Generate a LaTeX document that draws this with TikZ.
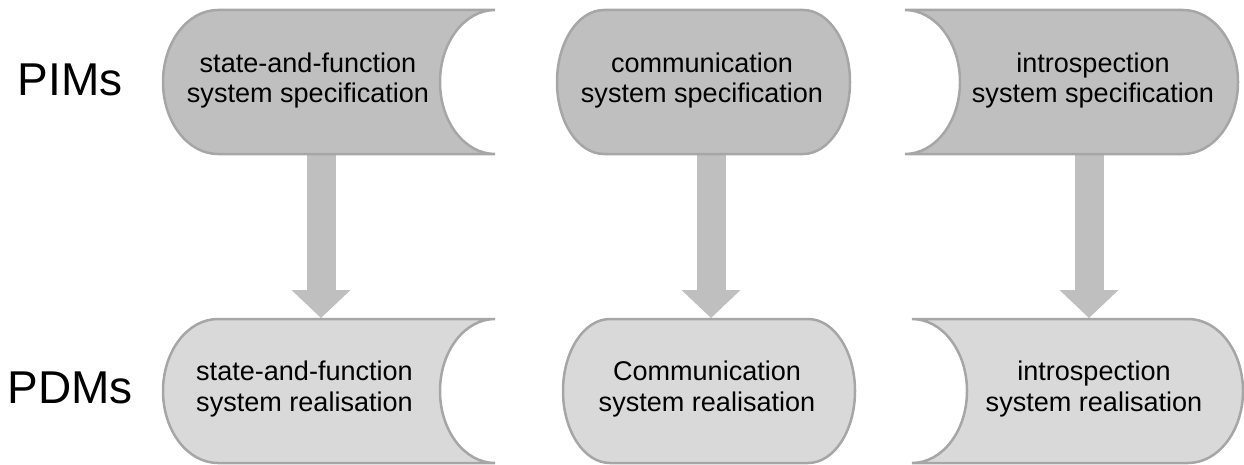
\documentclass[tikz,border=0pt]{standalone}
\usepackage{fontspec}
\setmainfont{Liberation Sans}
\usepackage{tikz}
\usetikzlibrary{arrows.meta}
\usepackage{xcolor}
\definecolor{PimGray}{HTML}{BFBFBF}
\definecolor{PdmGray}{HTML}{D9D9D9}
\definecolor{EdgeGray}{HTML}{A6A6A6}

\tikzset{
  pimbox/.style={fill=PimGray, draw=EdgeGray, line width=0.05cm},
  pdmbox/.style={fill=PdmGray, draw=EdgeGray, line width=0.05cm},
  boxtext/.style={align=center, inner sep=0pt, font=\fontsize{15.4}{17.6}\selectfont},
  modeltext/.style={anchor=base, inner sep=0pt, font=\fontsize{26.2}{30}\selectfont},
  bigarrow/.style={draw=PimGray, line width=0.58cm, -{Triangle[width=1.18cm,length=0.56cm,line width=0pt]}}
}

\begin{document}
\begin{tikzpicture}[x=0.02cm,y=0.02cm]
\useasboundingbox (0,0) rectangle (1244,464);
% arrows from PIMs down to PDMs
\coordinate (sfout) at (321,312);
\coordinate (sfin) at (321,146);
\coordinate (comout) at (711,312);
\coordinate (comin) at (711,146);
\coordinate (intout) at (1089,312);
\coordinate (intin) at (1089,146);
\draw[bigarrow] (sfout) -- (sfin);
\draw[bigarrow] (comout) -- (comin);
\draw[bigarrow] (intout) -- (intin);
% PIMs row
\draw[pimbox] (495,454) -- (218,454) arc[start angle=90,end angle=270,x radius=55,y radius=72] -- (495,310) arc[start angle=-90,end angle=-270,x radius=55,y radius=72] -- cycle;
\draw[pimbox] (604,454) -- (803,454) arc[start angle=90,end angle=-90,x radius=47,y radius=72] -- (604,310) arc[start angle=270,end angle=90,x radius=47,y radius=72] -- cycle;
\draw[pimbox] (905,454) -- (1183,454) arc[start angle=90,end angle=-90,x radius=55,y radius=72] -- (905,310) arc[start angle=-90,end angle=90,x radius=55,y radius=72] -- cycle;
% PDMs row
\draw[pdmbox] (495,145) -- (218,145) arc[start angle=90,end angle=270,x radius=55,y radius=72] -- (495,1) arc[start angle=-90,end angle=-270,x radius=55,y radius=72] -- cycle;
\draw[pdmbox] (610,145) -- (808,145) arc[start angle=90,end angle=-90,x radius=47,y radius=72] -- (610,1) arc[start angle=270,end angle=90,x radius=47,y radius=72] -- cycle;
\draw[pdmbox] (912,145) -- (1188,145) arc[start angle=90,end angle=-90,x radius=55,y radius=72] -- (912,1) arc[start angle=-90,end angle=90,x radius=55,y radius=72] -- cycle;
% texts
\node[modeltext] (pims) at (70,369) {PIMs};
\node[modeltext] (pdms) at (70,61) {PDMs};
\node[boxtext] (sfspec) at (308,383.5) {state-and-function\\system specification};
\node[boxtext] (comspec) at (702,383.5) {communication\\system specification};
\node[boxtext] (intspec) at (1093,383.5) {introspection\\system specification};
\node[boxtext] (sfreal) at (304.5,75) {state-and-function\\system realisation};
\node[boxtext] (comreal) at (707,75) {Communication\\system realisation};
\node[boxtext] (intreal) at (1094,75) {introspection\\system realisation};
\end{tikzpicture}
\end{document}
